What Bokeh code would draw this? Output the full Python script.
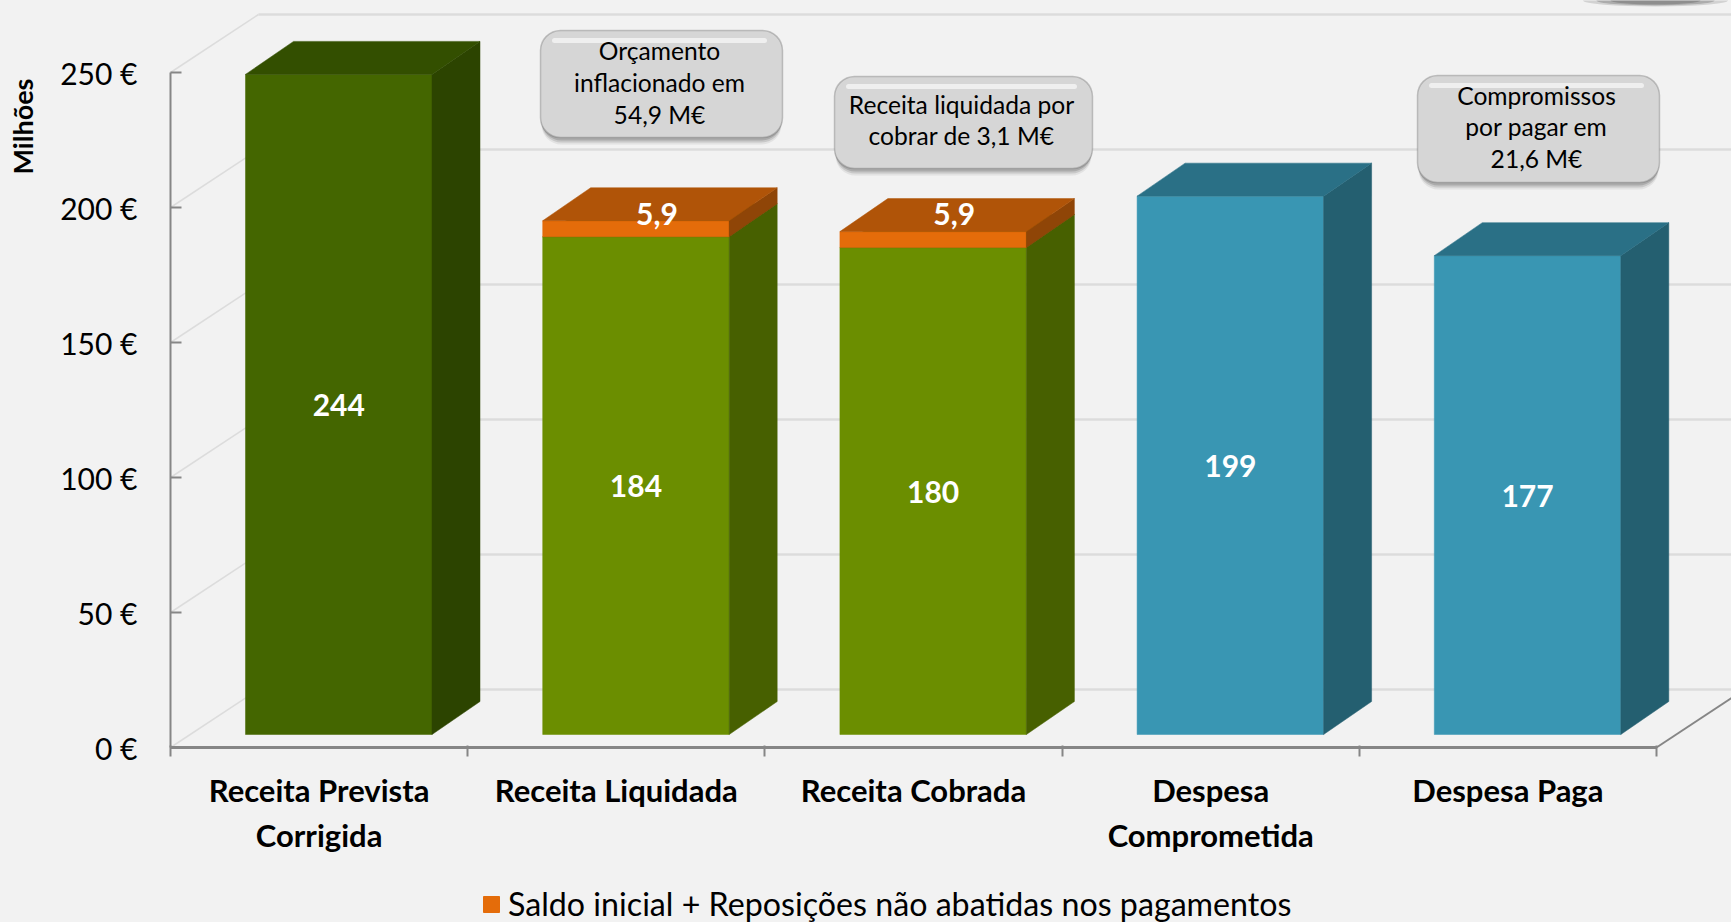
from bokeh.plotting import figure
from bokeh.embed import file_html
from bokeh.resources import INLINE
from bokeh.core.properties import value
from bokeh.models import (ColumnDataSource, FixedTicker, Label, BoxAnnotation, Legend, LegendItem,
                          Range1d)

categories = ["Receita Prevista\nCorrigida", "Receita Liquidada", "Receita Cobrada",
              "Despesa\nComprometida", "Despesa Paga"]
main_values = [244, 184, 180, 199, 177]
top_values = [0, 5.9, 5.9, 0, 0]
main_labels = ["244", "184", "180", "199", "177"]
top_labels = ["", "5,9", "5,9", "", ""]
y_ticks = [0, 50, 100, 150, 200, 250]
y_tick_labels = ["0 €", "50 €", "100 €", "150 €", "200 €", "250 €"]
callouts = [["Orçamento", "inflacionado em", "54,9 M€"],
            ["Receita liquidada por", "cobrar de 3,1 M€"],
            ["Compromissos", "por pagar em", "21,6 M€"]]
legend_text = "Saldo inicial + Reposições não abatidas nos pagamentos"

FRONT = ["#446600", "#6b8e00", "#6b8e00", "#3996b3", "#3996b3"]
SIDE = ["#2c4400", "#476000", "#476000", "#245f70", "#245f70"]
TOP = ["#334f00", "#476000", "#476000", "#2a7086", "#2a7086"]
O_FRONT, O_SIDE, O_TOP = "#e46c0a", "#8f4507", "#b05408"
AXIS = "#868686"
GRID = "#dcdcdc"
BG = "#f2f2f2"
FONT = "Lato"

W, H = 1731, 922
FL, FB = 170, 747          # pixel position of the y axis and of the zero line
PXX, PXY = 297.2, 2.7      # pixels per category, pixels per million


def X(px):
    return (px - FL) / PXX


def Y(py):
    return (FB - py) / PXY


p = figure(width=W, height=H, output_backend="svg", toolbar_location=None,
           x_range=Range1d(X(0), X(W)), y_range=Range1d(Y(H), Y(0)),
           min_border=0, background_fill_color=BG, border_fill_color=BG, outline_line_color=None)
p.grid.visible = False

# axes
ax = p.xaxis[0]
ax.fixed_location = 0
ax.bounds = (0, 5)
ax.ticker = FixedTicker(ticks=[i + 0.5 for i in range(5)], minor_ticks=list(range(6)))
ax.major_label_overrides = {i + 0.5: c for i, c in enumerate(categories)}
ax.major_tick_line_color = None
ax.minor_tick_line_color = AXIS
ax.minor_tick_line_width = 2
ax.minor_tick_out = 9
ax.minor_tick_in = 2
ax.axis_line_color = AXIS
ax.axis_line_width = 3
ax.major_label_text_font = FONT
ax.major_label_text_font_style = "bold"
ax.major_label_text_font_size = "31px"
ax.major_label_text_color = "#000000"
ax.major_label_standoff = 14

ay = p.yaxis[0]
ay.fixed_location = 0
ay.bounds = (0, 250)
ay.ticker = FixedTicker(ticks=y_ticks, minor_ticks=[])
ay.major_label_overrides = dict(zip(y_ticks, y_tick_labels))
ay.major_tick_in = 11
ay.major_tick_out = 0
ay.major_tick_line_color = AXIS
ay.major_tick_line_width = 2
ay.minor_tick_line_color = None
ay.axis_line_color = AXIS
ay.axis_line_width = 2
ay.major_label_text_font = FONT
ay.major_label_text_font_size = "30px"
ay.major_label_text_color = "#000000"
ay.major_label_standoff = 33

# 3D walls: the back wall is shifted by (WX, WY) pixels
WX, WY = 88, 58
wx, wy = WX / PXX, WY / PXY
end_x = X(W)
p.segment(x0=[wx] * 6, x1=[end_x] * 6, y0=[t + wy for t in y_ticks], y1=[t + wy for t in y_ticks],
          line_color=GRID, line_width=2.5)
p.segment(x0=[0] * 6, x1=[wx] * 6, y0=y_ticks, y1=[t + wy for t in y_ticks],
          line_color=GRID, line_width=1.5)
p.segment(x0=[5], x1=[end_x], y0=[0], y1=[(end_x - 5) / wx * wy], line_color=AXIS, line_width=2)

# shape cut by the top edge of the picture
for w_px, h_px, al in ((145, 12, 0.2), (118, 10, 0.3), (90, 8, 0.35)):
    p.ellipse(x=[X(1655)], y=[Y(0)], width=w_px / PXX, height=h_px / PXY, fill_color="#555555",
              fill_alpha=al, line_color=None)

# bars
BAR_LEFT, BAR_W = 75 / PXX, 186.5 / PXX
DX, DY = 48 / PXX, 33 / PXY
BASE = 13 / PXY
NEAR_SCALE = 1.002         # the bars stand nearer to the viewer than the axis plane

polys = {"xs": [], "ys": [], "c": []}


def prism(x0, y0, y1, front, side, top):
    x1 = x0 + BAR_W
    polys["xs"] += [[x0, x1, x1, x0],
                    [x1, x1 + DX, x1 + DX, x1],
                    [x0, x1, x1 + DX, x0 + DX]]
    polys["ys"] += [[y0, y0, y1, y1],
                    [y0, y0 + DY, y1 + DY, y1],
                    [y1, y1, y1 + DY, y1 + DY]]
    polys["c"] += [front, side, top]


for i, (v, t) in enumerate(zip(main_values, top_values)):
    x0 = i + BAR_LEFT
    prism(x0, BASE, BASE + v * NEAR_SCALE, FRONT[i], SIDE[i], TOP[i])
    if t:
        prism(x0, BASE + v * NEAR_SCALE, BASE + (v + t) * NEAR_SCALE, O_FRONT, O_SIDE, O_TOP)

p.patches("xs", "ys", source=ColumnDataSource(polys), fill_color="c", line_color="c", line_width=0.5)

# value labels
lab = ColumnDataSource(dict(x=[i + BAR_LEFT + BAR_W / 2 for i in range(5)],
                            y=[BASE + v / 2 for v in main_values], t=main_labels))
p.text("x", "y", "t", source=lab, text_color="#ffffff", text_font=value(FONT), text_font_style="bold",
       text_font_size="30px", text_align="center", text_baseline="middle")
tl = [(i, s) for i, s in enumerate(top_labels) if s]
p.text(x=[i + BAR_LEFT + BAR_W / 2 + 21 / PXX for i, _ in tl],
       y=[Y(213.5)] * len(tl), text=[s for _, s in tl], text_color="#ffffff", text_font=value(FONT),
       text_font_style="bold", text_font_size="30px", text_align="center", text_baseline="middle")

# callouts
boxes = [(540, 782, 30, 137, [50, 82, 114]), (834, 1092, 76, 168, [104, 135]), (1417, 1659, 75, 182, [95, 126, 158])]
for (l, r, t, b, ys), lines in zip(boxes, callouts):
    for off, al in ((7, 0.10), (5, 0.18), (3, 0.25)):
        p.add_layout(BoxAnnotation(left=X(l + 1), right=X(r - 1), top=Y(t + off), bottom=Y(b + off),
                                   fill_color="#555555", fill_alpha=al, line_color=None, border_radius=20,
                                   level="annotation"))
    p.add_layout(BoxAnnotation(left=X(l), right=X(r), top=Y(t), bottom=Y(b), fill_color="#d6d6d6", fill_alpha=1,
                               line_color="#555555", line_width=1.5, border_radius=20, level="annotation"))
    p.line([X(l + 14), X(r - 18)], [Y(t + 10)] * 2, line_color="#ffffff", line_alpha=0.6, line_width=5,
           line_cap="round", level="overlay")
    p.text([X((l + r) / 2 - 2)] * len(lines), [Y(y) for y in ys], lines, text_font=value(FONT),
           text_font_size="24.6px", text_color="#000000", text_align="center", text_baseline="middle",
           level="overlay")

# y axis title
p.add_layout(Label(x=X(22), y=Y(126), text="Milhões", angle=1.5708, angle_units="rad", text_font=FONT,
                   text_font_style="bold", text_font_size="27px", text_align="center", text_baseline="middle",
                   text_color="#000000"))

# legend
leg = Legend(items=[LegendItem(label=legend_text, renderers=[p.quad(left=[0], right=[0], top=[0], bottom=[0],
                                                                    fill_color=O_FRONT, line_color=O_FRONT)])],
             location=(481, -1), background_fill_alpha=0, border_line_color=None,
             padding=0, margin=0, glyph_width=20, glyph_height=20, label_standoff=7,
             label_text_font=FONT, label_text_font_size="32.2px", label_text_color="#000000",
             label_height=30)
p.add_layout(leg)

html = file_html(p, INLINE)
html = html.replace("<head>", f"<head><style>html,body{{background:{BG};margin:0;padding:0;overflow:hidden}}</style>", 1)
open("out.html", "w").write(html)
